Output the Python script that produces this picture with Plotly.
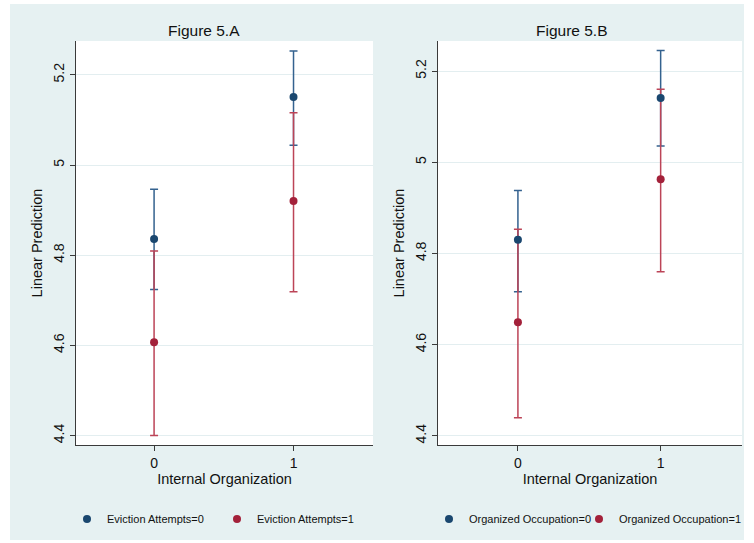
import plotly.graph_objects as go

# Predicted values with 95% confidence limits, by internal organization (0/1)
x_levels = [0, 1]
x_ticklabels = ["0", "1"]

# Panel A: eviction attempts
a_pred_0 = [4.836, 5.151]
a_low_0 = [4.724, 5.044]
a_high_0 = [4.946, 5.253]
a_pred_1 = [4.607, 4.920]
a_low_1 = [4.400, 4.719]
a_high_1 = [4.809, 5.116]

# Panel B: organized occupation
b_pred_0 = [4.830, 5.141]
b_low_0 = [4.716, 5.036]
b_high_0 = [4.938, 5.245]
b_pred_1 = [4.649, 4.963]
b_low_1 = [4.440, 4.760]
b_high_1 = [4.853, 5.160]

y_ticks = [4.4, 4.6, 4.8, 5.0, 5.2]
y_ticklabels = ["4.4", "4.6", "4.8", "5", "5.2"]

NAVY = "#1A476F"
NAVY_LINE = "#34628F"
MAROON = "#A3213A"
MAROON_LINE = "#BC4457"
BG = "#E6F1F2"
FONT = "Liberation Sans, Arial, sans-serif"

W, H = 754, 543


def px(x):
    return x / W


def py(y):
    return 1 - y / H


fig = go.Figure()


def add_panel(xa, ya, legends, pred0, low0, high0, pred1, low1, high1, names):
    series = [
        (pred0, low0, high0, NAVY, NAVY_LINE, names[0], legends[0]),
        (pred1, low1, high1, MAROON, MAROON_LINE, names[1], legends[1]),
    ]
    # confidence intervals first so every point sits above every bar
    for pred, low, high, col, lcol, name, leg in series:
        fig.add_trace(go.Scatter(
            x=x_levels, y=pred, mode="markers", xaxis=xa, yaxis=ya,
            marker=dict(size=1, color="rgba(0,0,0,0)"),
            error_y=dict(type="data", symmetric=False,
                         array=[h - p for h, p in zip(high, pred)],
                         arrayminus=[p - l for p, l in zip(pred, low)],
                         color=lcol, thickness=1.5, width=4),
            showlegend=False, hoverinfo="skip"))
    for pred, low, high, col, lcol, name, leg in series:
        fig.add_trace(go.Scatter(
            x=x_levels, y=pred, mode="markers", xaxis=xa, yaxis=ya,
            marker=dict(size=8, color=col), name=name, legend=leg))


add_panel("x", "y", ["legend", "legend2"],
          a_pred_0, a_low_0, a_high_0, a_pred_1, a_low_1, a_high_1,
          ["Eviction Attempts=0", "Eviction Attempts=1"])
add_panel("x2", "y2", ["legend3", "legend4"],
          b_pred_0, b_low_0, b_high_0, b_pred_1, b_low_1, b_high_1,
          ["Organized Occupation=0", "Organized Occupation=1"])

axis_common = dict(showline=True, linecolor="#3A3A3A", linewidth=1.3,
                   ticks="outside", ticklen=5, tickcolor="#3A3A3A", tickwidth=1,
                   tickfont=dict(size=14, color="#111"), zeroline=False)

xcommon = dict(axis_common, range=[-0.56, 1.57], tickvals=x_levels, ticktext=x_ticklabels,
               showgrid=False,
               title=dict(text="Internal Organization", font=dict(size=14.5, color="#111"),
                          standoff=3))
ycommon = dict(axis_common, tickvals=y_ticks, ticktext=y_ticklabels, tickangle=-90,
               showgrid=True, gridcolor="#E3EEF0", gridwidth=1,
               title=dict(text="Linear Prediction", font=dict(size=14.5, color="#111"),
                          standoff=5))


def legend_at(marker_x):
    # a one-entry legend whose symbol sits at the given pixel column
    return dict(orientation="h", x=px(marker_x - 21), xanchor="left",
                y=py(519), yanchor="middle", font=dict(size=11, color="#111"),
                bgcolor="rgba(0,0,0,0)", itemwidth=30)


fig.update_layout(
    width=W, height=H,
    margin=dict(l=0, r=0, t=0, b=0),
    paper_bgcolor="white", plot_bgcolor="white",
    font=dict(family=FONT, color="#111"),
    xaxis=dict(xcommon, domain=[px(76), px(373)], anchor="y"),
    yaxis=dict(ycommon, domain=[py(445), py(41)], range=[4.379, 5.275], anchor="x"),
    xaxis2=dict(xcommon, domain=[px(438), px(742)], anchor="y2"),
    yaxis2=dict(ycommon, domain=[py(445), py(41)], range=[4.38, 5.266], anchor="x2"),
    legend=legend_at(88),
    legend2=legend_at(238),
    legend3=legend_at(450),
    legend4=legend_at(600),
    shapes=[
        dict(type="rect", xref="paper", yref="paper", x0=px(10), x1=px(744),
             y0=py(540), y1=py(4), fillcolor=BG, line=dict(width=0), layer="below"),
        dict(type="rect", xref="paper", yref="paper", x0=px(76), x1=px(373),
             y0=py(445), y1=py(41), fillcolor="white", line=dict(width=0), layer="below"),
        dict(type="rect", xref="paper", yref="paper", x0=px(438), x1=px(742),
             y0=py(445), y1=py(41), fillcolor="white", line=dict(width=0), layer="below"),
    ],
    annotations=[
        dict(text="Figure 5.A", xref="paper", yref="paper", x=px(204), y=py(31),
             xanchor="center", yanchor="middle", showarrow=False,
             font=dict(size=15.5, color="#111")),
        dict(text="Figure 5.B", xref="paper", yref="paper", x=px(572), y=py(31),
             xanchor="center", yanchor="middle", showarrow=False,
             font=dict(size=15.5, color="#111")),
    ],
)

fig.write_html("out.html")
